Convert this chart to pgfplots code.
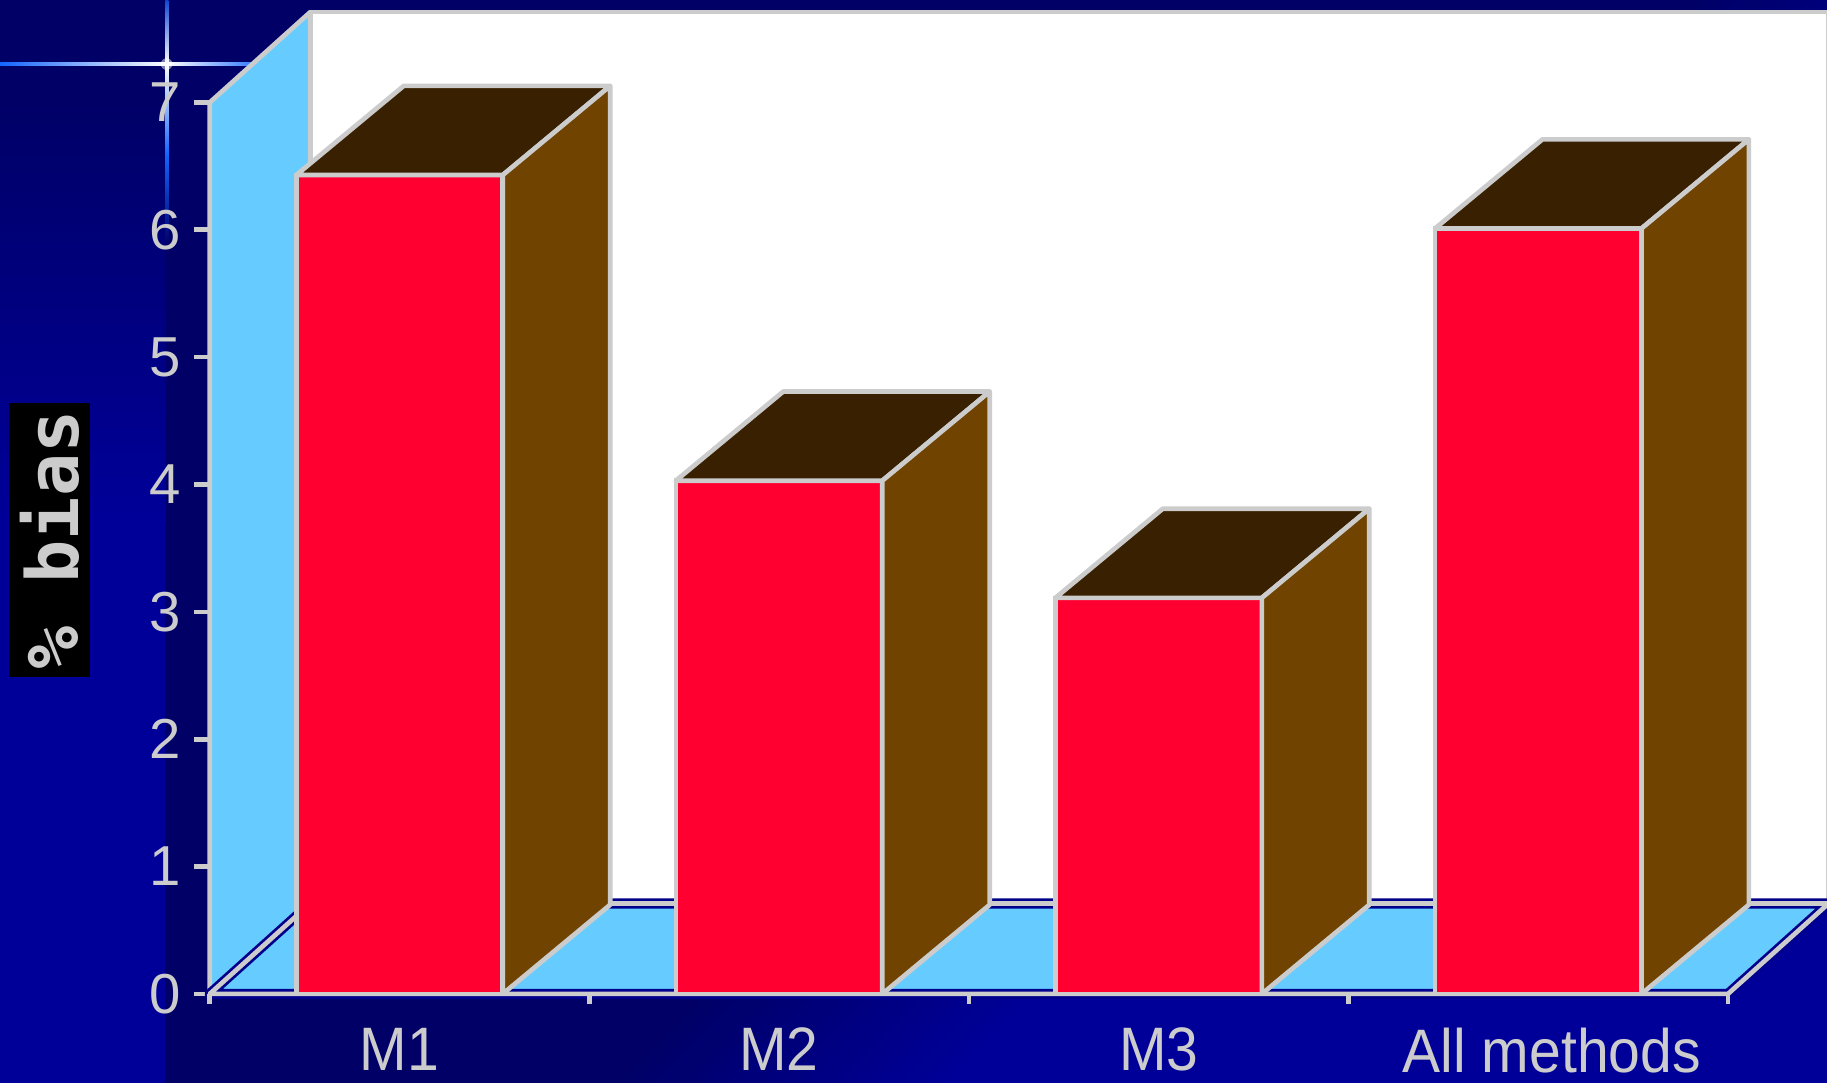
\documentclass[border=0pt]{standalone}
\usepackage{pgfplots}
\pgfplotsset{compat=1.18}
\usepackage{fontspec}
\setmainfont{Liberation Sans}
\newfontfamily\xlabfont{Liberation Sans}[FakeStretch=0.93]
\newfontfamily\pixfont{DejaVu Sans Mono}
\definecolor{bgdark}{RGB}{0,0,102}
\definecolor{bgbright}{RGB}{0,0,153}
\definecolor{edge}{RGB}{204,204,204}
\definecolor{wallblue}{RGB}{102,204,255}
\definecolor{barred}{RGB}{255,0,48}
\definecolor{bartop}{RGB}{56,32,0}
\definecolor{barside}{RGB}{112,68,0}
\definecolor{spark}{RGB}{20,100,255}
\definecolor{navyline}{RGB}{0,0,140}
\begin{document}
\begin{tikzpicture}
\begin{scope}[x=0.3pt,y=0.3pt]
\fill[bgdark] (-10,-10) rectangle (1580,940);
% left strip
\fill[bgbright] (-10,-10) rectangle (142,479);
\shade[top color=bgdark, bottom color=bgbright] (-10,479) rectangle (142,849);
% chart area diagonal gradient
\begin{scope}
\clip (142,-10) rectangle (1580,940);
\foreach \i in {0,...,29} {
  \pgfmathsetmacro\a{1450+10*\i}
  \pgfmathsetmacro\b{\a+11}
  \pgfmathsetmacro\p{(\i+0.5)/30*100}
  \fill[bgbright!\p!bgdark] (\a-1029,-100) -- (\a+171,1100) -- (\b+171,1100) -- (\b-1029,-100) -- cycle;
}
\fill[bgbright] (1750-1029,-100) -- (1750+171,1100) -- (4000,1100) -- (4000,-100) -- cycle;
\end{scope}
% sparkle
\shade[left color=spark, right color=white] (0,873) rectangle (143,875.5);
\shade[left color=white, right color=spark] (143,873) rectangle (230,875.5);
\shade[top color=spark!70!bgdark, bottom color=white] (142,874) rectangle (144.5,929);
\shade[top color=white, bottom color=bgdark, middle color=spark] (142,719) rectangle (144.5,874);
\fill[white, opacity=0.5] (143,874) circle (5);
\end{scope}

\begin{axis}[
  at={(54pt,22.8pt)}, anchor=south west,
  scale only axis, width=416.8pt, height=252.8pt,
  xmin=-0.5, xmax=3.765, ymin=0, ymax=7.71,
  clip=false,
  axis line style={draw=none},
  xtick={0,1,2,3}, xticklabels={M1,M2,M3,{\hspace*{7pt}All methods}},
  ytick={0,1,2,3,4,5,6,7},
  tick align=outside, tick pos=left,
  major tick length=4pt,
  xtick style={draw=none},
  ytick style={draw=edge, line width=1.2pt},
  tick label style={text=edge},
  xticklabel style={font=\xlabfont\fontsize{15.8}{18}\selectfont, inner sep=0pt, yshift=-4.6pt},
  yticklabel style={font=\fontsize{14.5}{17}\selectfont},
  /pgf/number format/assume math mode=true,
  ylabel={\% bias},
  ylabel style={at={(axis description cs:-0.0990,0.4623)}, anchor=center,
    fill=black, text=edge, inner sep=0pt,
    minimum width=70.5pt, minimum height=20.7pt,
    font=\pixfont\bfseries\fontsize{18.5}{20}\selectfont},
]
% walls
\addplot[fill=wallblue, draw=edge, line width=1.2pt, line join=round] coordinates {(-0.5,0) (-0.5,7) (-0.235,7.71) (-0.235,0.71)} -- cycle;
\addplot[fill=white, draw=edge, line width=1.2pt, line join=round] coordinates {(-0.235,0.71) (3.765,0.71) (3.765,7.71) (-0.235,7.71)} -- cycle;
\addplot[fill=wallblue, draw=navyline, line width=2.6pt, line join=round] coordinates {(-0.5,0) (3.5,0) (3.765,0.71) (-0.235,0.71)} -- cycle;
\addplot[draw=edge, line width=1.2pt, line join=round] coordinates {(-0.5,0) (3.5,0) (3.765,0.71) (-0.235,0.71)} -- cycle;
% x ticks
\draw[edge, line width=1.2pt] (axis cs:-0.5,0) -- ++(0pt,-2.6pt);
\draw[edge, line width=1.2pt] (axis cs:0.5,0) -- ++(0pt,-2.6pt);
\draw[edge, line width=1.2pt] (axis cs:1.5,0) -- ++(0pt,-2.6pt);
\draw[edge, line width=1.2pt] (axis cs:2.5,0) -- ++(0pt,-2.6pt);
\draw[edge, line width=1.2pt] (axis cs:3.5,0) -- ++(0pt,-2.6pt);
% bar fronts
\addplot[ybar, bar width=0.544, fill=barred, draw=edge, line width=1.2pt] coordinates {(0,6.43) (1,4.03) (2,3.11) (3,6.01)};
% bar tops
\addplot[fill=bartop, draw=edge, line width=1.2pt, line join=round] coordinates {(-0.272,6.43) (0.272,6.43) (0.555,7.13) (0.011,7.13)} -- cycle;
\addplot[fill=bartop, draw=edge, line width=1.2pt, line join=round] coordinates {(0.728,4.03) (1.272,4.03) (1.555,4.73) (1.011,4.73)} -- cycle;
\addplot[fill=bartop, draw=edge, line width=1.2pt, line join=round] coordinates {(1.728,3.11) (2.272,3.11) (2.555,3.81) (2.011,3.81)} -- cycle;
\addplot[fill=bartop, draw=edge, line width=1.2pt, line join=round] coordinates {(2.728,6.01) (3.272,6.01) (3.555,6.71) (3.011,6.71)} -- cycle;
% bar sides
\addplot[fill=barside, draw=edge, line width=1.2pt, line join=round] coordinates {(0.272,0) (0.555,0.70) (0.555,7.13) (0.272,6.43)} -- cycle;
\addplot[fill=barside, draw=edge, line width=1.2pt, line join=round] coordinates {(1.272,0) (1.555,0.70) (1.555,4.73) (1.272,4.03)} -- cycle;
\addplot[fill=barside, draw=edge, line width=1.2pt, line join=round] coordinates {(2.272,0) (2.555,0.70) (2.555,3.81) (2.272,3.11)} -- cycle;
\addplot[fill=barside, draw=edge, line width=1.2pt, line join=round] coordinates {(3.272,0) (3.555,0.70) (3.555,6.71) (3.272,6.01)} -- cycle;
\end{axis}
\pgfresetboundingbox
\path[use as bounding box] (0,0) rectangle (470.4pt,278.7pt);
\end{tikzpicture}
\end{document}
